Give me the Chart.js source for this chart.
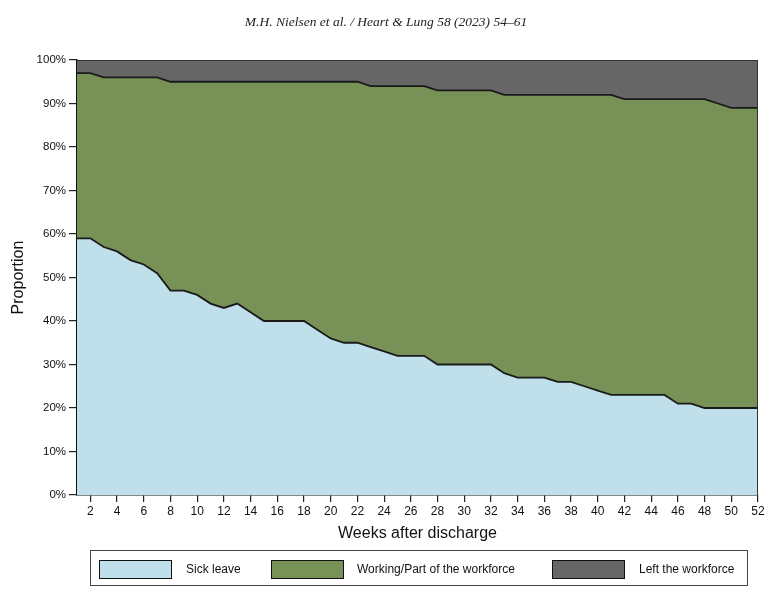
<!DOCTYPE html>
<html>
<head>
<meta charset="utf-8">
<script src="https://cdn.jsdelivr.net/npm/chart.js@4"></script>
<style>
  html, body { margin: 0; padding: 0; background: #fff; }
  #wrap { position: relative; width: 780px; height: 603px; }
  #header {
    position: absolute; left: 0; top: 14px; width: 772px; text-align: center;
    font: italic 13.5px "Liberation Serif", serif; color: #222;
  }
  #legend {
    position: absolute; left: 90px; top: 550px; width: 658px; height: 36px;
    border: 1px solid #444; box-sizing: border-box;
    font: 12px "Liberation Sans", Arial, sans-serif; color: #111;
  }
  .sw { position: absolute; top: 9px; width: 73px; height: 19px; border: 1px solid #111; box-sizing: border-box; }
  .lbl { position: absolute; top: 11px; }
</style>
</head>
<body>
<div id="wrap">
  <canvas id="chart" width="780" height="603"></canvas>
  <div id="header">M.H. Nielsen et al. / Heart &amp; Lung 58 (2023) 54–61</div>
  <div id="legend"></div>
</div>
<script>
// weeks after discharge
const weeks = []
for (let w = 1; w <= 52; w++) weeks.push(w)

// proportions in percent
const sickLeave = [59, 59, 57, 56, 54, 53, 51, 47, 47, 46, 44, 43, 44, 42, 40, 40, 40, 40, 38, 36,
  35, 35, 34, 33, 32, 32, 32, 30, 30, 30, 30, 30, 28, 27, 27, 27, 26, 26, 25, 24,
  23, 23, 23, 23, 23, 21, 21, 20, 20, 20, 20, 20]
const working = [38, 38, 39, 40, 42, 43, 45, 48, 48, 49, 51, 52, 51, 53, 55, 55, 55, 55, 57, 59,
  60, 60, 60, 61, 62, 62, 62, 63, 63, 63, 63, 63, 64, 65, 65, 65, 66, 66, 67, 68,
  69, 68, 68, 68, 68, 70, 70, 71, 70, 69, 69, 69]
const leftWorkforce = [3, 3, 4, 4, 4, 4, 4, 5, 5, 5, 5, 5, 5, 5, 5, 5, 5, 5, 5, 5,
  5, 5, 6, 6, 6, 6, 6, 7, 7, 7, 7, 7, 8, 8, 8, 8, 8, 8, 8, 8,
  8, 9, 9, 9, 9, 9, 9, 9, 10, 11, 11, 11]

const xTicks = [2, 4, 6, 8, 10, 12, 14, 16, 18, 20, 22, 24, 26, 28, 30, 32, 34, 36, 38, 40, 42, 44, 46, 48, 50, 52]
const yTicks = [0, 10, 20, 30, 40, 50, 60, 70, 80, 90, 100]

const seriesNames = ['Sick leave', 'Working/Part of the workforce', 'Left the workforce']
const seriesColors = ['#bfe0ea', '#789157', '#666666']

const toPoints = vals => vals.map((v, i) => ({ x: weeks[i], y: v }))

const font = { family: '"Liberation Sans", Arial, sans-serif', size: 12 }

new Chart(document.getElementById('chart'), {
  type: 'line',
  data: {
    datasets: [
      { label: seriesNames[0], data: toPoints(sickLeave), backgroundColor: seriesColors[0],
        borderColor: '#1a1a1a', borderWidth: 1.8, fill: 'origin' },
      { label: seriesNames[1], data: toPoints(working), backgroundColor: seriesColors[1],
        borderColor: '#1a1a1a', borderWidth: 1.8, fill: '-1' },
      { label: seriesNames[2], data: toPoints(leftWorkforce), backgroundColor: seriesColors[2],
        borderColor: '#333', borderWidth: 1, fill: '-1' }
    ]
  },
  options: {
    responsive: false,
    animation: false,
    layout: { padding: { left: 0, top: 60, right: 22, bottom: 60 } },
    elements: { point: { radius: 0 }, line: { tension: 0 } },
    plugins: { legend: { display: false }, tooltip: { enabled: false } },
    scales: {
      x: {
        type: 'linear', min: 1, max: 52,
        afterBuildTicks: s => { s.ticks = xTicks.map(v => ({ value: v })) },
        afterFit: s => { s.height = 48 },
        grid: { drawOnChartArea: false, drawTicks: true, tickLength: 7, color: '#222', lineWidth: 1.2 },
        border: { color: '#111', width: 1.5 },
        ticks: { color: '#111', font: font, padding: 2, maxRotation: 0, autoSkip: false },
        title: { display: true, text: 'Weeks after discharge', color: '#111',
          font: { family: font.family, size: 16 }, padding: { top: 0, bottom: 0 } }
      },
      y: {
        stacked: true, min: 0, max: 100,
        afterBuildTicks: s => { s.ticks = yTicks.map(v => ({ value: v })) },
        afterFit: s => { s.width = 77 },
        grid: { drawOnChartArea: false, drawTicks: true, tickLength: 8, color: '#222', lineWidth: 1.2 },
        border: { color: '#111', width: 1.5 },
        ticks: { color: '#111', font: { family: font.family, size: 11.5 }, padding: 3, callback: v => v + '%' },
        title: { display: true, text: 'Proportion', color: '#111',
          font: { family: font.family, size: 16 }, padding: { top: 9, bottom: 0 } }
      }
    }
  },
  plugins: [{
    // thin frame on the right and top of the plot area
    id: 'frame',
    afterDatasetsDraw(chart) {
      const { ctx, chartArea: a } = chart
      ctx.save()
      ctx.strokeStyle = '#333'
      ctx.lineWidth = 1
      ctx.beginPath()
      ctx.moveTo(a.left, a.top + 0.5)
      ctx.lineTo(a.right - 0.5, a.top + 0.5)
      ctx.lineTo(a.right - 0.5, a.bottom)
      ctx.stroke()
      ctx.restore()
    }
  }]
})

// legend box under the chart
const legend = document.getElementById('legend')
const swatchLeft = [8, 180, 461]
const labelLeft = [95, 266, 548]
seriesNames.forEach((name, i) => {
  const sw = document.createElement('span')
  sw.className = 'sw'
  sw.style.left = swatchLeft[i] + 'px'
  sw.style.background = seriesColors[i]
  legend.appendChild(sw)
  const lb = document.createElement('span')
  lb.className = 'lbl'
  lb.style.left = labelLeft[i] + 'px'
  lb.textContent = name
  legend.appendChild(lb)
})
</script>
</body>
</html>
